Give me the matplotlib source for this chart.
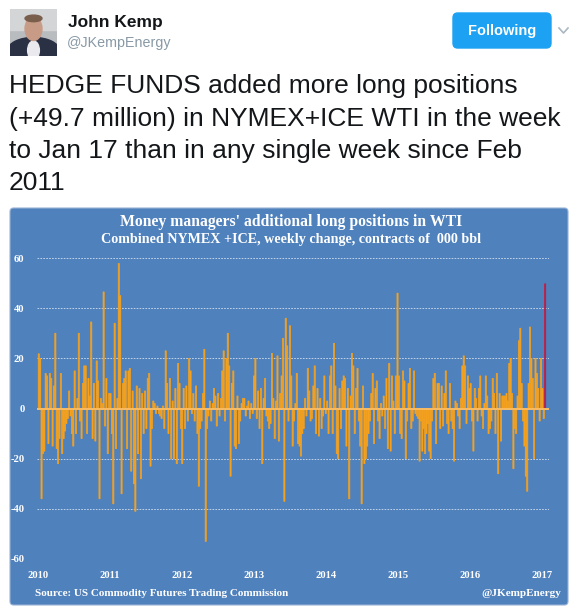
import numpy as np
import pandas as pd
import matplotlib
matplotlib.use("Agg")
import matplotlib.pyplot as plt
import matplotlib.dates as mdates
from matplotlib.patches import FancyBboxPatch, Ellipse, Rectangle

# weekly change in money-manager longs, NYMEX+ICE WTI, 000 contracts-of-bbl
vals_2010 = [21.8, 20, -36, -18, -17, 14, 13, -14, 14, 12, -15, 9, 30, -16, -22, -12,
             14, -18, -12, -9, -6, -4, 7, -3, -10, -15, 15, -10, 4, 30, -5, -12,
             10, 17, 17, -10, 12, 5, 34.5, -12, 10, -13, 19, 11, -36, 4, 2, 46.5,
             -7, 12, -18, 6]
vals_2011 = [6, -10, -38, 34, -16, 4, 57.8, 45, -34, 10, 12, 15, -16, 15, 16, -25,
             7, -30, -41, 9, -18, 8, -28, 6, -10, 7, -8, 12, 14, -23, -8, 3,
             2, -2, 1, -2, -3, -4, 1, -8, 23, 10, -10, 12, -20, 3, -20, 8,
             -22, 18, 10, -8]
vals_2012 = [-22, 8, -8, 9, -5, 20, 15, -2, 6, -5, 9, -10, -31, -8, -5, 6,
             23.6, -53, -8, -3, 3, -5, 2, 8, 5, -7, 6, -3, 4, 15, 23, -5,
             20, 30, 17, -27, 10, 15, -15, -16, 5, -14, -5, 2, 4, 4, -3, 1,
             3, -4, 2, -2]
vals_2013 = [13, 20, -4, 7, -8, 8, -22, 4, 12, -3, -5, -8, -6, 22, 4, -12,
             3, 21, -13, 6, 13, 28, -37, 36, 25, -5, 33, 13, -15, -5, 2, 14,
             -14, -15, -19, -10, -8, 4, -3, 16, 7, -5, -4, 9, 17, -10, 8, -11,
             4, -8, -3, 13, -2]
vals_2014 = [3, -10, 13, 17, -10, 26, 9, -18, -20, 8, -8, 11, 13, 12, -15, 8,
             -36, 5, 22, 17, -10, 8, 16, -5, -15, -38, 9, -22, -20, -15, -10, -5,
             6, 14, -14, 8, 11, -5, -12, 2, -3, 5, -8, 12, -16, 18, -17, 13,
             3, -10, 13, 46]
vals_2015 = [13, -10, -12, 15, 11, -20, -5, 10, 16, -8, -5, 15, -2, -3, -4, -21,
             -5, -17, -8, -18, -10, -6, -17, -20, -5, 12, 14, -14, 10, 10, -8, 9,
             -7, 6, 15, -6, -10, 10, -5, -8, -21, 3, 2, -3, -8, 4, 17, 21,
             17, -6, 13, 8]
vals_2016 = [10, -5, -17, 8, 4, -5, 8, 13, -3, -8, 2, 13, 5, -10, -8, -5,
             12, 6, -10, 14, -26, 6, -13, 5, 5, 5, 6, 3, 18, 20, 6, -24,
             -8, -10, 5, 27, 32, 10, -5, -15, -27, -33, 10, 32.5, 20, 12, -20, 20,
             14, 8, -5, 20]
vals_2017 = [8, -4, 49.7]

values = vals_2010 + vals_2011 + vals_2012 + vals_2013 + vals_2014 + vals_2015 + vals_2016 + vals_2017
weeks = pd.date_range("2010-01-05", periods=len(values), freq="7D")
years = list(range(2010, 2018))
yticks = [60, 40, 20, 0, -20, -40, -60]

blue = "#4f81bd"
orange = "#f6a11c"
red = "#c8163c"

W, H = 580, 611
fig = plt.figure(figsize=(W / 100, H / 100), dpi=100)
fig.patch.set_facecolor("white")

def fx(px):
    return px / W

def fy(py):
    return 1 - py / H

sans = ["Liberation Sans", "DejaVu Sans"]
serif = ["Liberation Serif", "DejaVu Serif"]

# --- tweet header ---
av = fig.add_axes([fx(10), fy(56), fx(47), 47 / H])
av.set_xlim(0, 1)
av.set_ylim(0, 1)
av.axis("off")
av.add_patch(Rectangle((0, 0), 1, 1, color="#b9bcbf"))
av.add_patch(Rectangle((0, 0.55), 1, 0.45, color="#d3d5d6"))
av.add_patch(Ellipse((0.5, 0.12), 1.1, 0.55, color="#2a3145"))
av.add_patch(Ellipse((0.5, 0.12), 0.25, 0.4, color="#e9e9ee"))
av.add_patch(Ellipse((0.5, 0.58), 0.36, 0.5, color="#c89b86"))
av.add_patch(Ellipse((0.5, 0.8), 0.36, 0.14, color="#7a5e4c"))

fig.text(fx(68), fy(22), "John Kemp", family=sans, weight="bold", fontsize=12.5,
         color="#14171a", va="center", ha="left")
fig.text(fx(67), fy(43), "@JKempEnergy", family=sans, fontsize=10.3,
         color="#8899a6", va="center", ha="left")

btn = FancyBboxPatch((fx(453), fy(48)), fx(98), 35 / H,
                     boxstyle="round,pad=0,rounding_size=0.008",
                     transform=fig.transFigure, color="#1da1f2", zorder=2)
fig.patches.append(btn)
fig.text(fx(502), fy(31), "Following", family=sans, weight="bold", fontsize=10.5,
         color="white", va="center", ha="center", zorder=3)
fig.lines.append(plt.Line2D([fx(559), fx(563.5), fx(568)], [fy(28), fy(33), fy(28)],
                            transform=fig.transFigure, color="#aab8c2", lw=1.2))

tweet = ["HEDGE FUNDS added more long positions",
         "(+49.7 million) in NYMEX+ICE WTI in the week",
         "to Jan 17 than in any single week since Feb",
         "2011"]
for k, line in enumerate(tweet):
    fig.text(fx(9), fy(86 + 32.5 * k), line, family=sans, fontsize=19,
             color="#14171a", va="center", ha="left")

# --- chart panel ---
panel = FancyBboxPatch((fx(10), fy(605)), fx(558), 397 / H,
                       boxstyle="round,pad=0,rounding_size=0.006",
                       transform=fig.transFigure, facecolor=blue,
                       edgecolor="#9ab3d6", lw=0.8, zorder=0)
fig.patches.append(panel)

fig.text(fx(291), fy(222), "Money managers' additional long positions in WTI",
         family=serif, weight="bold", fontsize=11.3, color="white", ha="center", va="center")
fig.text(fx(291), fy(240), "Combined NYMEX +ICE, weekly change, contracts of  000 bbl",
         family=serif, weight="bold", fontsize=10.2, color="white", ha="center", va="center")
fig.text(fx(35), fy(593), "Source: US Commodity Futures Trading Commission",
         family=serif, weight="bold", fontsize=8.0, color="white", ha="left", va="center")
fig.text(fx(561), fy(593), "@JKempEnergy",
         family=serif, weight="bold", fontsize=8.0, color="white", ha="right", va="center")

ax = fig.add_axes([fx(37), fy(559), fx(512), 301 / H])
ax.set_zorder(5)
ax.set_facecolor("none")
for s in ax.spines.values():
    s.set_visible(False)

colors = [orange] * (len(values) - 1) + [red]
ax.bar(weeks, values, width=6, color=colors, edgecolor=colors, linewidth=0.5,
       zorder=3, snap=False)
ax.axhline(0, color="#f8bb63", lw=1.4, zorder=4)

d0 = mdates.date2num(pd.Timestamp("2010-01-01"))
d7 = mdates.date2num(pd.Timestamp("2017-01-01"))
per_px = (d7 - d0) / 504.0
ax.set_xlim(d0 - 1 * per_px, d0 + 511 * per_px)
ax.set_ylim(-60, 60)

ax.set_yticks(yticks)
ax.set_yticklabels([str(v) for v in yticks])
ax.set_xticks([mdates.date2num(pd.Timestamp(f"{y}-01-01")) for y in years])
ax.set_xticklabels([str(y) for y in years])
ax.tick_params(length=0, colors="white", labelsize=7.6)
ax.tick_params(axis="y", pad=9)
ax.tick_params(axis="x", pad=9)
for lab in ax.get_xticklabels() + ax.get_yticklabels():
    lab.set_family(serif)
    lab.set_weight("bold")
ax.grid(axis="y", color="white", lw=0.6, ls=(0, (2, 1.5)), alpha=0.75, zorder=1)
ax.grid(axis="x", visible=False)

fig.savefig("out.png", dpi=100)
